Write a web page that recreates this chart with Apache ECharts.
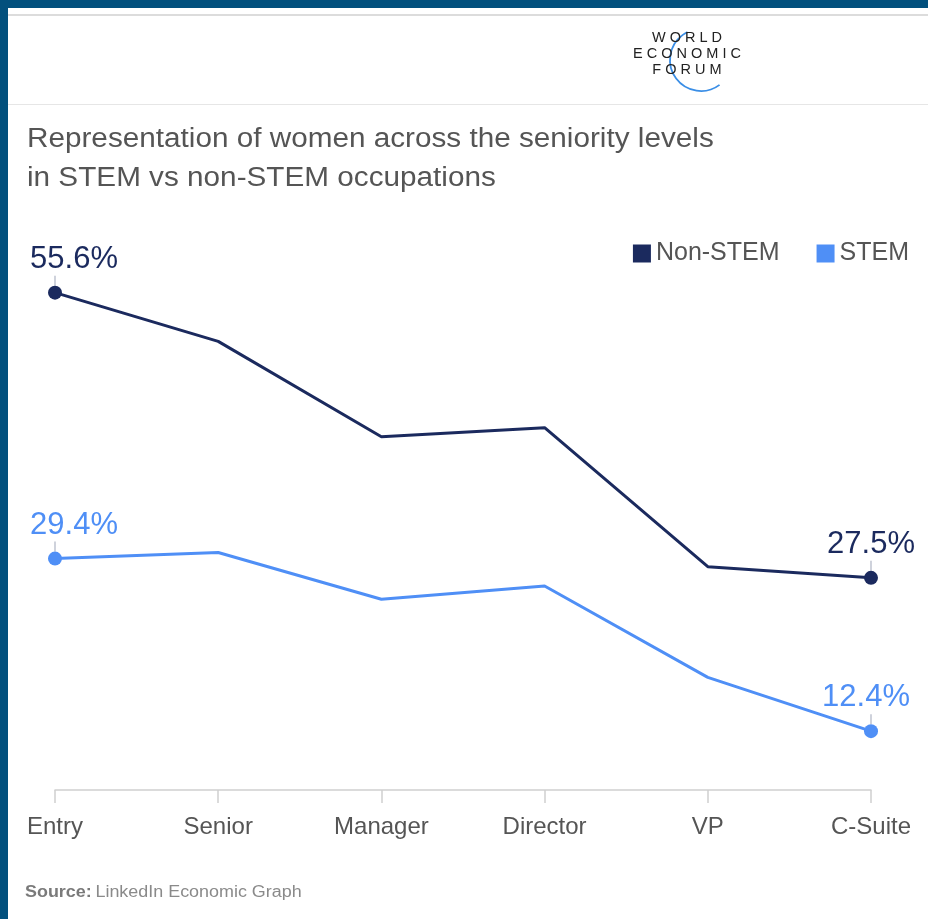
<!DOCTYPE html>
<html>
<head>
<meta charset="utf-8">
<script src="https://cdn.jsdelivr.net/npm/echarts@6/dist/echarts.min.js"></script>
<style>
html,body{margin:0;padding:0;background:#fff;}
#chart{width:928px;height:919px;}
</style>
</head>
<body>
<div id="chart"></div>
<script>
const categories = ['Entry', 'Senior', 'Manager', 'Director', 'VP', 'C-Suite'];
const nonStem = [55.6, 50.8, 41.4, 42.3, 28.6, 27.5];
const stem = [29.4, 30.0, 25.4, 26.7, 17.7, 12.4];
const seriesNames = ['Non-STEM', 'STEM'];
const titleLines = ['Representation of women across the seniority levels', 'in STEM vs non-STEM occupations'];
const logoLines = ['WORLD', 'ECONOMIC', 'FORUM'];
const sourceLabel = 'Source:';
const sourceText = 'LinkedIn Economic Graph';

const NAVY = '#1b2a5e';
const BLUE = '#4f8ff6';
const FONT = '"Liberation Sans", Arial, sans-serif';
const last = categories.length - 1;

function isEnd(i){ return i === 0 || i === last; }
function spaced(s){ return s.split('').join(' '); }

function lineSeries(name, data, color, endOffsets){
  return {
    name: name,
    type: 'line',
    data: data,
    color: color,
    lineStyle: {width: 3, color: color},
    itemStyle: {color: color},
    symbol: 'circle',
    symbolSize: function(v, p){ return isEnd(p.dataIndex) ? 14 : 0; },
    showAllSymbol: true,
    z: 3,
    label: {
      show: true,
      position: 'top',
      distance: 11,
      fontFamily: FONT,
      fontSize: 31,
      color: color,
      formatter: function(p){ return isEnd(p.dataIndex) ? p.value.toFixed(1) + '%' : ''; }
    },
    labelLayout: function(p){
      return {dx: p.dataIndex === 0 ? endOffsets[0] : endOffsets[1]};
    },
    emphasis: {disabled: true}
  };
}

function tickSeries(data){
  return {
    type: 'scatter',
    data: data.map(function(v, i){ return isEnd(i) ? v : null; }),
    symbol: 'rect',
    symbolSize: [1.2, 10],
    symbolOffset: [0, -12],
    itemStyle: {color: '#9aa0b4'},
    silent: true,
    z: 2
  };
}

const graphics = [
  {type: 'rect', shape: {x: 0, y: 0, width: 928, height: 8}, style: {fill: '#02507d'}, z: 10},
  {type: 'rect', shape: {x: 0, y: 0, width: 8, height: 919}, style: {fill: '#02507d'}, z: 10},
  {type: 'rect', shape: {x: 8, y: 14, width: 920, height: 2}, style: {fill: '#dcdcdc'}},
  {type: 'rect', shape: {x: 8, y: 104, width: 920, height: 1}, style: {fill: '#e6e6e6'}},
  {type: 'arc', shape: {cx: 701, cy: 60, r: 31, startAngle: 0.93, endAngle: 4.26, clockwise: true}, style: {stroke: '#3a8ee6', lineWidth: 1.8, fill: null}}
];
const logoY = [38, 54, 70];
logoLines.forEach(function(t, i){
  graphics.push({type: 'text', x: 687, y: logoY[i], style: {text: spaced(t), x: 0, y: 0, fill: '#222', font: '14.5px ' + FONT, textAlign: 'center', textVerticalAlign: 'middle'}});
});
const titleY = [140, 179];
titleLines.forEach(function(t, i){
  graphics.push({type: 'text', x: 27, y: titleY[i], scaleX: 1.1, style: {text: t, x: 0, y: 0, fill: '#555', font: '27px ' + FONT, textVerticalAlign: 'middle'}});
});
graphics.push({type: 'text', x: 25, y: 893, scaleX: 1.12, style: {
  text: '{b|' + sourceLabel + '} {n|' + sourceText + '}', x: 0, y: 0, textVerticalAlign: 'middle',
  rich: {
    b: {fontFamily: FONT, fontSize: 16, fontWeight: 'bold', fill: '#7a7a7a', color: '#7a7a7a'},
    n: {fontFamily: FONT, fontSize: 16, fill: '#8a8a8a', color: '#8a8a8a'}
  }
}});

const chart = echarts.init(document.getElementById('chart'), null, {renderer: 'canvas'});
chart.setOption({
  backgroundColor: '#fff',
  animation: false,
  grid: {left: 55, right: 57, top: 248, bottom: 129, containLabel: false},
  legend: {
    data: seriesNames,
    right: 14,
    top: 236,
    itemWidth: 18,
    itemHeight: 18,
    itemGap: 37,
    icon: 'rect',
    textStyle: {fontFamily: FONT, fontSize: 25, color: '#555'},
    selectedMode: false
  },
  xAxis: {
    type: 'category',
    data: categories,
    boundaryGap: false,
    axisLine: {lineStyle: {color: '#cfcfcf', width: 1.5}},
    axisTick: {show: true, alignWithLabel: true, length: 13, lineStyle: {color: '#cfcfcf', width: 1.5}},
    axisLabel: {fontFamily: FONT, fontSize: 24, color: '#555', margin: 25, interval: 0},
    splitLine: {show: false}
  },
  yAxis: {
    type: 'value',
    min: 6.6,
    max: 60,
    show: false
  },
  series: [
    lineSeries(seriesNames[0], nonStem, NAVY, [19, 0]),
    lineSeries(seriesNames[1], stem, BLUE, [19, -5]),
    tickSeries(nonStem),
    tickSeries(stem)
  ],
  graphic: graphics
});
</script>
</body>
</html>
